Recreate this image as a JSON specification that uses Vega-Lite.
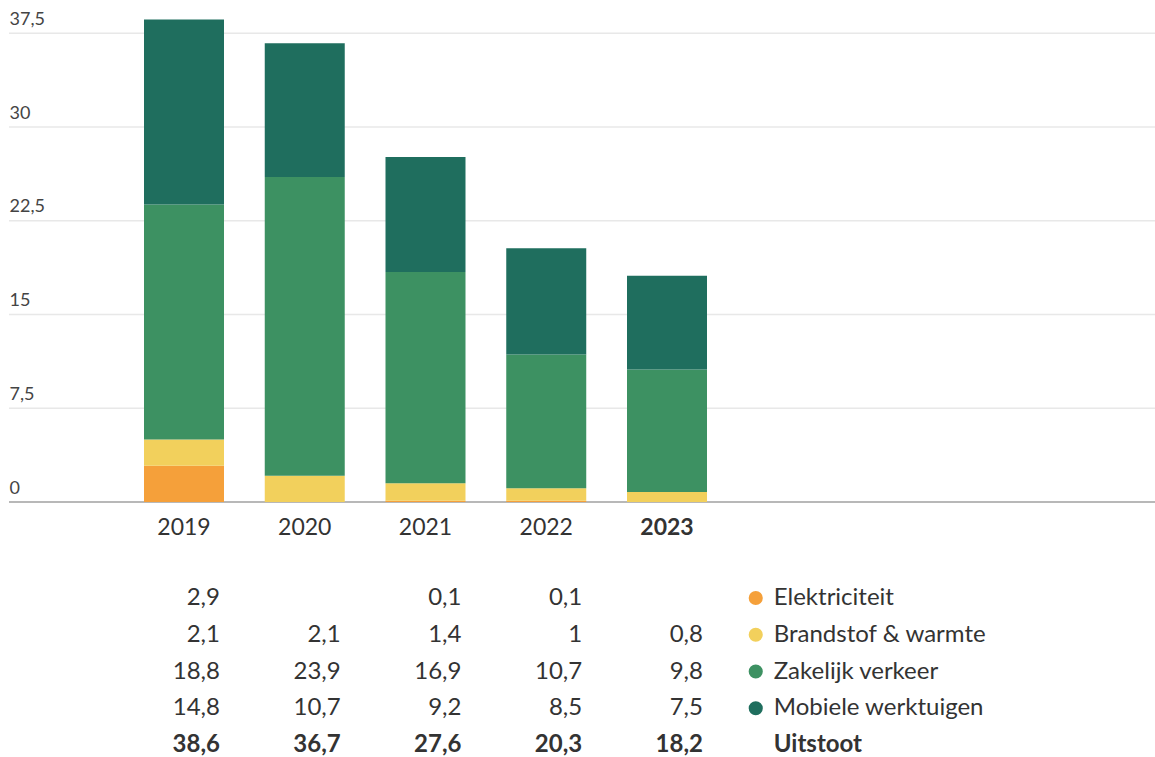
{
  "$schema": "https://vega.github.io/schema/vega-lite/v6.json",
  "padding": {"left": 8, "top": 2, "right": 0, "bottom": 0},
  "background": "white",
  "config": {
    "font": "Lato",
    "view": {"stroke": null},
    "locale": {"number": {"decimal": ",", "thousands": ".", "grouping": [3], "currency": ["€", ""]}}
  },
  "datasets": {
    "main": [
      {"jaar": "2019", "cat": "Elektriciteit", "v": 2.9},
      {"jaar": "2019", "cat": "Brandstof & warmte", "v": 2.1},
      {"jaar": "2019", "cat": "Zakelijk verkeer", "v": 18.8},
      {"jaar": "2019", "cat": "Mobiele werktuigen", "v": 14.8},
      {"jaar": "2019", "cat": "Uitstoot", "v": 38.6},
      {"jaar": "2020", "cat": "Brandstof & warmte", "v": 2.1},
      {"jaar": "2020", "cat": "Zakelijk verkeer", "v": 23.9},
      {"jaar": "2020", "cat": "Mobiele werktuigen", "v": 10.7},
      {"jaar": "2020", "cat": "Uitstoot", "v": 36.7},
      {"jaar": "2021", "cat": "Elektriciteit", "v": 0.1},
      {"jaar": "2021", "cat": "Brandstof & warmte", "v": 1.4},
      {"jaar": "2021", "cat": "Zakelijk verkeer", "v": 16.9},
      {"jaar": "2021", "cat": "Mobiele werktuigen", "v": 9.2},
      {"jaar": "2021", "cat": "Uitstoot", "v": 27.6},
      {"jaar": "2022", "cat": "Elektriciteit", "v": 0.1},
      {"jaar": "2022", "cat": "Brandstof & warmte", "v": 1},
      {"jaar": "2022", "cat": "Zakelijk verkeer", "v": 10.7},
      {"jaar": "2022", "cat": "Mobiele werktuigen", "v": 8.5},
      {"jaar": "2022", "cat": "Uitstoot", "v": 20.3},
      {"jaar": "2023", "cat": "Brandstof & warmte", "v": 0.8},
      {"jaar": "2023", "cat": "Zakelijk verkeer", "v": 9.8},
      {"jaar": "2023", "cat": "Mobiele werktuigen", "v": 7.5},
      {"jaar": "2023", "cat": "Uitstoot", "v": 18.2}
    ],
    "cats": [
      {"cat": "Elektriciteit", "kol": "legend"},
      {"cat": "Brandstof & warmte", "kol": "legend"},
      {"cat": "Zakelijk verkeer", "kol": "legend"},
      {"cat": "Mobiele werktuigen", "kol": "legend"},
      {"cat": "Uitstoot", "kol": "legend"}
    ],
    "grid": [{"g": 0}, {"g": 7.5}, {"g": 15}, {"g": 22.5}, {"g": 30}, {"g": 37.5}]
  },
  "bounds": "flush",
  "spacing": 96,
  "resolve": {"scale": {"x": "independent", "y": "independent"}},
  "vconcat": [
    {
      "width": 1147,
      "height": 500,
      "layer": [
        {
          "data": {"name": "grid"},
          "mark": {"type": "rule"},
          "encoding": {
            "y": {
              "field": "g", "type": "quantitative", "scale": {"domain": [0, 40], "nice": false},
              "axis": {
                "title": null, "domain": false, "ticks": false, "grid": false,
                "values": [0, 7.5, 15, 22.5, 30, 37.5], "format": ".1~f",
                "labelAlign": "left", "labelBaseline": "alphabetic", "labelPadding": 0, "labelOffset": -9,
                "labelFontSize": 18, "labelColor": "#444"
              }
            },
            "color": {"condition": {"test": "datum.g === 0", "value": "#b8b8b8"}, "value": "#e8e8e8"},
            "strokeWidth": {"condition": {"test": "datum.g === 0", "value": 2}, "value": 1.5}
          }
        },
        {
          "data": {"name": "main"},
          "transform": [
            {"filter": "datum.cat !== 'Uitstoot'"},
            {"calculate": "indexof(['Elektriciteit','Brandstof & warmte','Zakelijk verkeer','Mobiele werktuigen'], datum.cat)", "as": "volgorde"}
          ],
          "mark": {"type": "bar"},
          "encoding": {
            "x": {
              "field": "jaar", "type": "nominal",
              "scale": {"type": "band", "domain": ["2019", "2020", "2021", "2022", "2023"], "range": [135, 698], "paddingInner": 0.3375, "paddingOuter": 0},
              "axis": {
                "title": null, "domain": false, "ticks": false, "labelAngle": 0,
                "labelFontSize": 23, "labelColor": "#333", "labelPadding": 14,
                "labelFontWeight": {"condition": {"test": "datum.value === '2023'", "value": "bold"}, "value": "normal"}
              }
            },
            "y": {
              "field": "v", "type": "quantitative", "stack": "zero",
              "axis": {
                "title": null, "domain": false, "ticks": false, "grid": false,
                "values": [0, 7.5, 15, 22.5, 30, 37.5], "format": ".1~f",
                "labelAlign": "left", "labelBaseline": "alphabetic", "labelPadding": 0, "labelOffset": -9,
                "labelFontSize": 18, "labelColor": "#444"
              }
            },
            "color": {
              "field": "cat", "type": "nominal",
              "scale": {"domain": ["Elektriciteit", "Brandstof & warmte", "Zakelijk verkeer", "Mobiele werktuigen"], "range": ["#f5a03a", "#f2d05c", "#3d9162", "#1f6e5e"]},
              "legend": null
            },
            "order": {"field": "volgorde", "type": "quantitative"}
          }
        }
      ]
    },
    {
      "width": 1147,
      "height": 147,
      "encoding": {
        "y": {
          "field": "cat", "type": "nominal",
          "scale": {"type": "point", "padding": 0, "domain": ["Elektriciteit", "Brandstof & warmte", "Zakelijk verkeer", "Mobiele werktuigen", "Uitstoot"]},
          "axis": null
        }
      },
      "layer": [
        {
          "data": {"name": "main"},
          "transform": [{"filter": "datum.cat !== 'Uitstoot'"}],
          "mark": {"type": "text", "align": "right", "baseline": "middle", "dx": -4, "fontSize": 24, "color": "#333"},
          "encoding": {
            "x": {"field": "jaar", "type": "nominal", "bandPosition": 1,
              "scale": {"type": "band", "domain": ["2019", "2020", "2021", "2022", "2023", "legend"], "range": [135, 818.74], "paddingInner": 0.3375, "paddingOuter": 0},
              "axis": null},
            "text": {"field": "v", "type": "quantitative", "format": ".1~f"}
          }
        },
        {
          "data": {"name": "main"},
          "transform": [{"filter": "datum.cat === 'Uitstoot'"}],
          "mark": {"type": "text", "align": "right", "baseline": "middle", "dx": -4, "fontSize": 24, "fontWeight": "bold", "color": "#333"},
          "encoding": {
            "x": {"field": "jaar", "type": "nominal", "bandPosition": 1, "axis": null},
            "text": {"field": "v", "type": "quantitative", "format": ".1~f"}
          }
        },
        {
          "data": {"name": "cats"},
          "transform": [{"filter": "datum.cat !== 'Uitstoot'"}],
          "mark": {"type": "point", "filled": true, "size": 200, "opacity": 1, "xOffset": 8},
          "encoding": {
            "x": {"field": "kol", "type": "nominal", "bandPosition": 0, "axis": null},
            "color": {"field": "cat", "type": "nominal", "legend": null}
          }
        },
        {
          "data": {"name": "cats"},
          "transform": [{"filter": "datum.cat !== 'Uitstoot'"}],
          "mark": {"type": "text", "align": "left", "baseline": "middle", "dx": 26, "fontSize": 24, "color": "#333"},
          "encoding": {
            "x": {"field": "kol", "type": "nominal", "bandPosition": 0, "axis": null},
            "text": {"field": "cat"}
          }
        },
        {
          "data": {"name": "cats"},
          "transform": [{"filter": "datum.cat === 'Uitstoot'"}],
          "mark": {"type": "text", "align": "left", "baseline": "middle", "dx": 26, "fontSize": 24, "fontWeight": "bold", "color": "#333"},
          "encoding": {
            "x": {"field": "kol", "type": "nominal", "bandPosition": 0, "axis": null},
            "text": {"field": "cat"}
          }
        }
      ]
    }
  ]
}
